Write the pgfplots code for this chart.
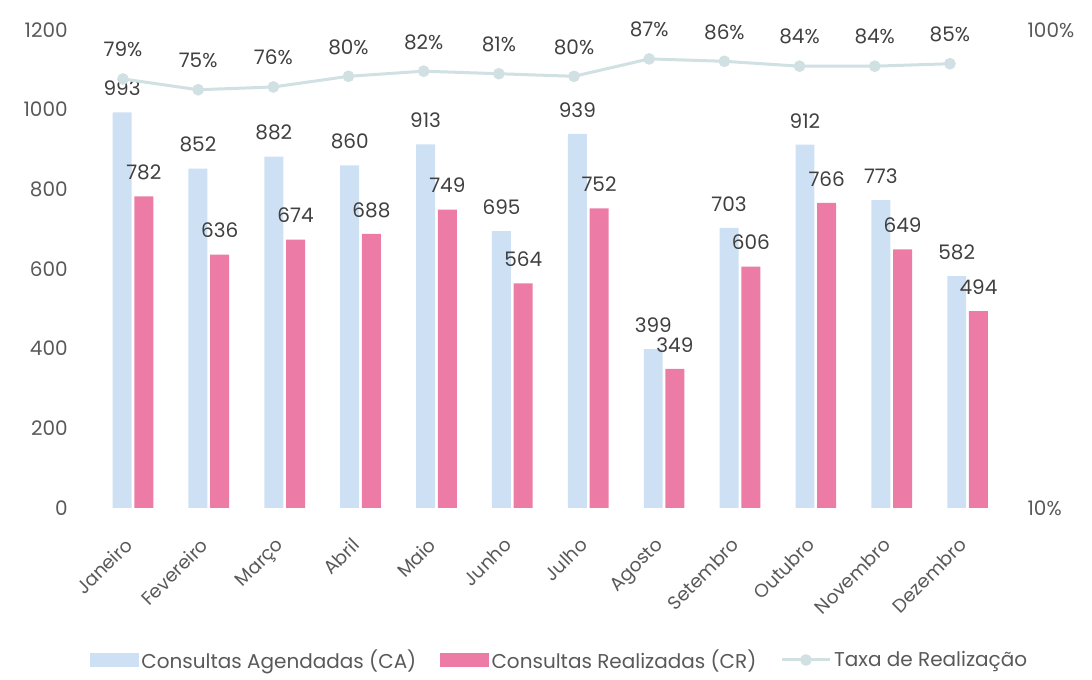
\documentclass[border=0pt]{standalone}
\usepackage{fontspec}
\setmainfont{Poppins}
\usepackage{pgfplots}
\pgfplotsset{compat=1.18}
\definecolor{ca}{RGB}{206,224,243}
\definecolor{cr}{RGB}{236,124,166}
\definecolor{tx}{RGB}{208,224,227}
\definecolor{lbl}{RGB}{89,89,89}
\definecolor{dl}{RGB}{64,64,64}
\begin{document}
\begin{tikzpicture}
\useasboundingbox (0,0) rectangle (819pt,510pt);
\begin{axis}[
  scale only axis, width=682.9pt, height=358.5pt,
  at={(71.25pt,129pt)}, anchor=south west,
  xmin=-0.5, xmax=11.5, ymin=0, ymax=1200,
  ybar, bar width=0.25,
  xtick={0,...,11},
  xticklabels={Janeiro,Fevereiro,Março,Abril,Maio,Junho,Julho,Agosto,Setembro,Outubro,Novembro,Dezembro},
  ytick={0,200,...,1200},
  axis line style={draw=none}, major tick length=0pt,
  font=\fontsize{15}{17}\selectfont,
  ticklabel style={text=lbl, font=\fontsize{15}{17}\selectfont},
  /pgf/number format/assume math mode=true,
  /pgf/number format/1000 sep={},
  yticklabel style={xshift=-17pt},
  xticklabel style={rotate=45, anchor=north east, yshift=-9pt, xshift=-19pt, inner sep=1pt, font=\fontsize{14}{16}\selectfont},
  nodes near coords,
  every node near coord/.append style={text=dl, anchor=center, yshift=18pt, font=\fontsize{15}{17}\selectfont, /pgf/number format/assume math mode=true},
]
\addplot[fill=ca, draw=none, bar shift=-0.143] coordinates {
(0,993) (1,852) (2,882) (3,860) (4,913) (5,695) (6,939) (7,399) (8,703) (9,912) (10,773) (11,582)};
\addplot[fill=cr, draw=none, bar shift=0.143] coordinates {
(0,782) (1,636) (2,674) (3,688) (4,749) (5,564) (6,752) (7,349) (8,606) (9,766) (10,649) (11,494)};
\end{axis}
\begin{axis}[
  scale only axis, width=682.9pt, height=358.5pt,
  at={(71.25pt,129pt)}, anchor=south west,
  xmin=-0.372, xmax=11.74, ymode=log, ymin=10, ymax=100,
  hide x axis, axis y line*=right,
  axis line style={draw=none}, major tick length=0pt, minor tick length=0pt,
  ytick={10,100}, yticklabels={10\%,100\%},
  yticklabel style={text=lbl, anchor=west, xshift=13pt, font=\fontsize{15}{17}\selectfont},
  font=\fontsize{15}{17}\selectfont,
  legend columns=3,
  legend style={draw=none, fill=none, at={(axis description cs:0.5107,-0.318)}, anchor=center,
    text=lbl, font=\fontsize{15}{17}\selectfont,
    /tikz/every even column/.append style={column sep=16pt}},
]
\addlegendimage{legend image code/.code={\fill[ca] (0pt,-5pt) rectangle (36pt,5pt);}}
\addlegendentry{Consultas Agendadas (CA)}
\addlegendimage{legend image code/.code={\fill[cr] (0pt,-5pt) rectangle (36pt,5pt);}}
\addlegendentry{Consultas Realizadas (CR)}
\addplot[tx, line width=2.25pt, mark=*, mark size=3.2pt, mark options={fill=tx, draw=tx},
  nodes near coords, point meta=explicit symbolic,
  every node near coord/.append style={text=dl, anchor=center, yshift=22pt, font=\fontsize{15}{17}\selectfont},
  legend image code/.code={\draw[tx, line width=2.25pt] (0pt,0pt) -- (36pt,0pt); \fill[tx] (18pt,0pt) circle (3.2pt);}]
 coordinates {
(0,79) [79\%] (1,75) [75\%] (2,76) [76\%] (3,80) [80\%] (4,82) [82\%] (5,81) [81\%]
(6,80) [80\%] (7,87) [87\%] (8,86) [86\%] (9,84) [84\%] (10,84) [84\%] (11,85) [85\%]};
\addlegendentry{Taxa de Realização}
\end{axis}
\end{tikzpicture}
\end{document}
